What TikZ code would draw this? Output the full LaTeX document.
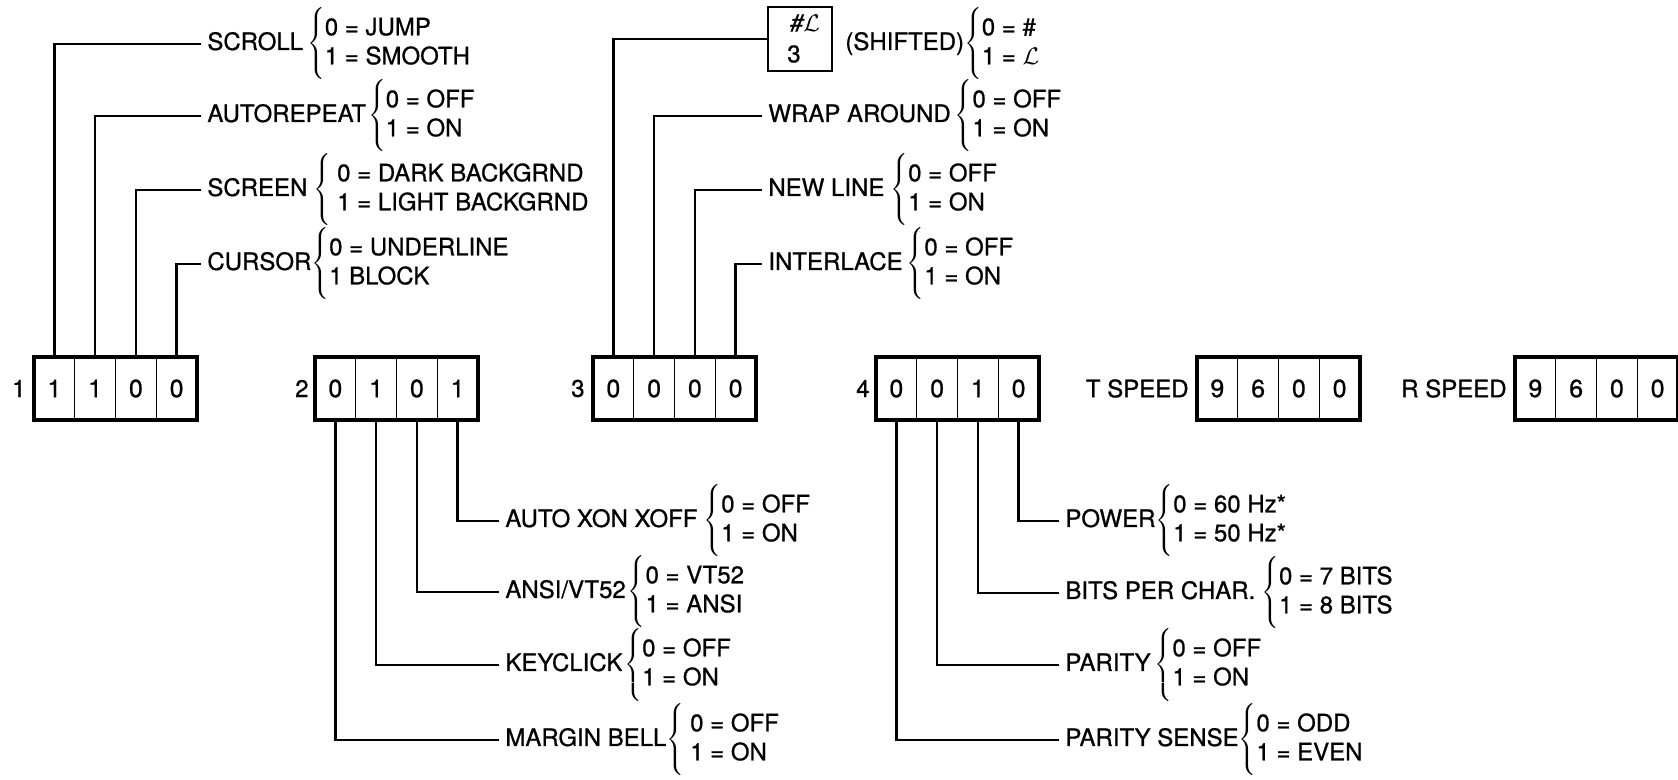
\documentclass[tikz,border=0pt]{standalone}
\usepackage{fontspec}
\setmainfont[FakeBold=0.8]{TeX Gyre Heros}
\delimitershortfall=-3pt
\newcommand{\optset}[4]{#1\hspace{#2}$\left\{\begin{tabular}{@{}l@{}}#3\\#4\end{tabular}\right.$}
\newcommand{\regbox}[6]{%
  \node[cell] (#1a) at ({#2+20.375},388.5) {#3};
  \node[cell] (#1b) at ({#2+61.125},388.5) {#4};
  \node[cell] (#1c) at ({#2+101.875},388.5) {#5};
  \node[cell] (#1d) at ({#2+142.625},388.5) {#6};
  \draw[frame] (#1a.north west) rectangle (#1d.south east);
}
\tikzset{
  cell/.style={draw, line width=0.7pt, minimum width=20.375pt, minimum height=31.5pt, inner sep=0pt, outer sep=0pt, font=\fontsize{12.5}{15}\selectfont},
  frame/.style={line width=2pt},
  row/.style={anchor=west, inner xsep=3pt, inner ysep=0pt, font=\fontsize{12}{14.5}\selectfont},
  reglab/.style={anchor=east, inner sep=0pt, font=\fontsize{12}{15}\selectfont},
  conn/.style={line width=1.2pt}
}
\begin{document}
\begin{tikzpicture}[x=0.5pt, y=-0.5pt]
\path[use as bounding box, fill=white] (0,0) rectangle (1678,780);

% registers
\regbox{b1}{34}{1}{1}{0}{0}
\regbox{b2}{315}{0}{1}{0}{1}
\regbox{b3}{593}{0}{0}{0}{0}
\regbox{b4}{876}{0}{0}{1}{0}
\regbox{ts}{1197}{9}{6}{0}{0}
\regbox{rs}{1515}{9}{6}{0}{0}

\node[reglab] (n1) at ([xshift=-4pt]b1a.west) {1};
\node[reglab] (n2) at ([xshift=-3pt]b2a.west) {2};
\node[reglab] (n3) at ([xshift=-4pt]b3a.west) {3};
\node[reglab] (n4) at ([xshift=-3pt]b4a.west) {4};
\node[reglab] (tsl) at ([xshift=-4pt]tsa.west) {T SPEED};
\node[reglab] (rsl) at ([xshift=-4pt]rsa.west) {R SPEED};

% group 1 (top left)
\node[row] (scroll) at (201,44) {\optset{SCROLL}{2pt}{0 = JUMP}{1 = SMOOTH}};
\node[row] (autorep) at (201,116) {\optset{AUTOREPEAT}{1pt}{0 = OFF}{1 = ON}};
\node[row] (screen) at (201,190) {\optset{SCREEN}{3pt}{\hspace{3pt}0 = DARK BACKGRND}{\hspace{3pt}1 = LIGHT BACKGRND}};
\node[row] (cursor) at (201,264) {\optset{CURSOR}{0pt}{0 = UNDERLINE}{1 BLOCK}};
\draw[conn] (b1a.north) |- (scroll.west);
\draw[conn] (b1b.north) |- (autorep.west);
\draw[conn] (b1c.north) |- (screen.west);
\draw[conn] (b1d.north) |- (cursor.west);

% group 3 (top middle)
\node[draw, line width=1.1pt, minimum width=32pt, minimum height=32pt, inner sep=0pt] (keybox) at (800,39) {};
\node[inner sep=0pt, font=\fontsize{12}{15}\selectfont] (keysym) at (805,23) {\itshape\#$\mathcal{L}$};
\node[inner sep=0pt, font=\fontsize{12}{15}\selectfont] (keynum) at (794,54) {3};
\node[row] (shifted) at (839,44) {\optset{(SHIFTED)}{0pt}{0 = \#}{1 = $\mathcal{L}$}};
\node[row] (wrap) at (762,116) {\optset{WRAP AROUND}{2pt}{0 = OFF}{1 = ON}};
\node[row] (newline) at (762,190) {\optset{NEW LINE}{3pt}{0 = OFF}{1 = ON}};
\node[row] (interlace) at (762,264) {\optset{INTERLACE}{2pt}{0 = OFF}{1 = ON}};
\draw[conn] (b3a.north) |- (keybox.west);
\draw[conn] (b3b.north) |- (wrap.west);
\draw[conn] (b3c.north) |- (newline.west);
\draw[conn] (b3d.north) |- (interlace.west);

% group 2 (bottom left)
\node[row] (autox) at (499,521) {\optset{AUTO XON XOFF}{3pt}{0 = OFF}{1 = ON}};
\node[row] (ansi) at (499,592) {\optset{ANSI/VT52}{1pt}{0 = VT52}{1 = ANSI}};
\node[row] (keyclick) at (499,665) {\optset{KEYCLICK}{1pt}{0 = OFF}{1 = ON}};
\node[row] (margin) at (499,740) {\optset{MARGIN BELL}{0pt}{\hspace{3pt}0 = OFF}{\hspace{3pt}1 = ON}};
\draw[conn] (b2d.south) |- (autox.west);
\draw[conn] (b2c.south) |- (ansi.west);
\draw[conn] (b2b.south) |- (keyclick.west);
\draw[conn] (b2a.south) |- (margin.west);

% group 4 (bottom middle)
\node[row] (power) at (1059,521) {\optset{POWER}{0pt}{0 = 60 Hz*}{1 = 50 Hz*}};
\node[row] (bits) at (1059,593) {\optset{BITS PER CHAR.}{3pt}{0 = 7 BITS}{1 = 8 BITS}};
\node[row] (parity) at (1059,665) {\optset{PARITY}{2pt}{0 = OFF}{1 = ON}};
\node[row] (psense) at (1059,740) {\optset{PARITY SENSE}{0pt}{0 = ODD}{1 = EVEN}};
\draw[conn] (b4d.south) |- (power.west);
\draw[conn] (b4c.south) |- (bits.west);
\draw[conn] (b4b.south) |- (parity.west);
\draw[conn] (b4a.south) |- (psense.west);
\end{tikzpicture}
\end{document}
